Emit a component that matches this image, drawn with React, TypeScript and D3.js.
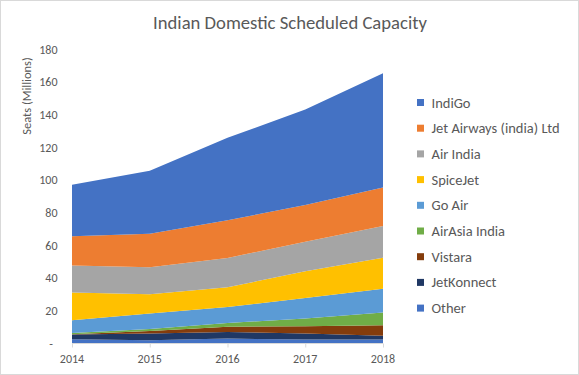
import React from "react";
import * as d3 from "d3";

const years = [2014, 2015, 2016, 2017, 2018];
const seriesNames = ["Other", "JetKonnect", "Vistara", "AirAsia India", "Go Air", "SpiceJet", "Air India", "Jet Airways (india) Ltd", "IndiGo"];
const other = [2.6, 2.0, 3.0, 2.4, 2.4];
const jetKonnect = [2.9, 4.1, 4.1, 3.7, 2.3];
const vistara = [0.2, 1.6, 3.1, 4.5, 6.5];
const airAsia = [0.8, 1.2, 2.4, 4.7, 7.8];
const goAir = [7.8, 9.5, 9.8, 12.5, 14.5];
const spiceJet = [16.9, 11.8, 12.0, 16.5, 19.0];
const airIndia = [16.6, 16.5, 18.0, 18.0, 19.5];
const jetAirways = [17.9, 20.5, 23.0, 22.5, 23.5];
const indiGo = [31.5, 38.5, 50.5, 58.5, 70.0];
const seriesValues = [other, jetKonnect, vistara, airAsia, goAir, spiceJet, airIndia, jetAirways, indiGo];
const colors = ["#4472C4", "#203864", "#843C0C", "#70AD47", "#5B9BD5", "#FFC000", "#A5A5A5", "#ED7D31", "#4472C4"];
const yTicks = [0, 20, 40, 60, 80, 100, 120, 140, 160, 180];

const W = 579, H = 375;
const FONT = "Carlito, Calibri, Lato, sans-serif";
const TXT = "#595959";

export default function App() {
  const x = d3.scaleLinear().domain([2014, 2018]).range([72, 383]);
  const y = d3.scaleLinear().domain([0, 180]).range([343.5, 49.5]);
  const table = years.map((yr, i) => {
    const row: any = { year: yr };
    seriesNames.forEach((n, k) => (row[n] = seriesValues[k][i]));
    return row;
  });
  const stacked = d3.stack<any>().keys(seriesNames)(table);
  const area = d3
    .area<any>()
    .x((d) => x(d.data.year))
    .y0((d) => y(d[0]))
    .y1((d) => y(d[1]));
  const legendOrder = seriesNames.map((n, i) => ({ n, c: colors[i] })).reverse();

  return (
    <div style={{ position: "absolute", left: 0, top: 0 }}>
      <svg width={W} height={H} style={{ display: "block" }} fontFamily={FONT}>
        <rect x={0} y={0} width={W} height={H} fill="#fff" />
        <rect x={0.5} y={0.5} width={W - 1} height={H - 1} fill="none" stroke="#d9d9d9" />
        <text x={290} y={29} textAnchor="middle" fontSize={18.67} fill={TXT}>
          Indian Domestic Scheduled Capacity
        </text>
        <text
          transform={`translate(31,96) rotate(-90)`}
          textAnchor="middle"
          fontSize={12.5}
          fill={TXT}
        >
          Seats (Millions)
        </text>
        {yTicks.map((t) => (
          <text
            key={t}
            x={t === 0 ? 53 : 57.5}
            y={y(t) + 4}
            textAnchor="end"
            fontSize={12}
            fill={TXT}
          >
            {t === 0 ? "-" : t}
          </text>
        ))}
        {stacked.map((s, i) => (
          <path key={s.key} d={area(s) || ""} fill={colors[i]} />
        ))}
        <line x1={x(2014)} x2={x(2018)} y1={343.5} y2={343.5} stroke="#d9d9d9" />
        {years.map((yr) => (
          <g key={yr}>
            <line x1={x(yr) + 0.5} x2={x(yr) + 0.5} y1={343.5} y2={347.5} stroke="#d9d9d9" />
            <text x={x(yr)} y={363} textAnchor="middle" fontSize={12} fill={TXT}>
              {yr}
            </text>
          </g>
        ))}
        {legendOrder.map((l, i) => (
          <g key={l.n + i} transform={`translate(417,${99 + i * 25.7})`}>
            <rect x={0} y={0} width={7} height={7} fill={l.c} />
            <text x={14.5} y={8.5} fontSize={14.5} fill={TXT}>
              {l.n}
            </text>
          </g>
        ))}
      </svg>
    </div>
  );
}
